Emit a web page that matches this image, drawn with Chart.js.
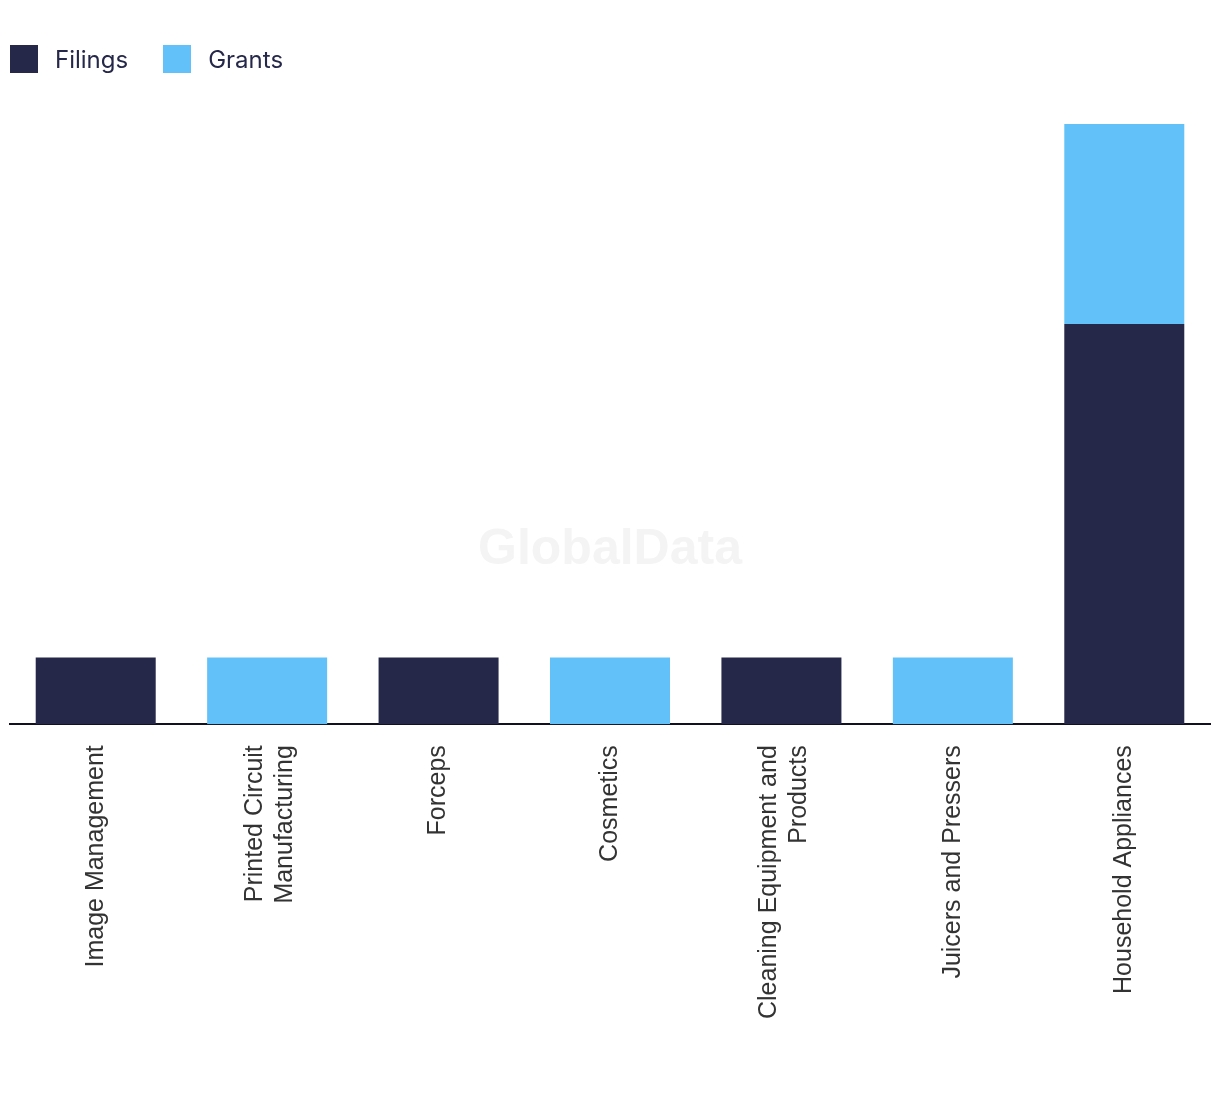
<!DOCTYPE html>
<html>
<head>
<meta charset="utf-8">
<script src="https://cdn.jsdelivr.net/npm/chart.js@4.4.1/dist/chart.umd.min.js"></script>
<style>
  body { margin: 0; background: #fff; }
  #wrap { position: relative; width: 1220px; height: 1094px; }
  #legend { position: absolute; left: 10px; top: 45px; display: flex; font-family: Inter, "Noto Sans", sans-serif; font-size: 24px; color: #262849; }
  .item { display: flex; align-items: center; margin-right: 35px; height: 28px; }
  .box { width: 28px; height: 28px; margin-right: 17px; }
  canvas { position: absolute; left: 0; top: 0; }
</style>
</head>
<body>
<div id="wrap">
  <canvas id="grafico" width="1220" height="1094"></canvas>
  <div id="legend"></div>
</div>
<script>
var categorias = [
  'Image Management',
  ['Printed Circuit', 'Manufacturing'],
  'Forceps',
  'Cosmetics',
  ['Cleaning Equipment and', 'Products'],
  'Juicers and Pressers',
  'Household Appliances'
];
var filings = [1, 0, 1, 0, 1, 0, 6];
var grants = [0, 1, 0, 1, 0, 1, 3];
var colores = ['#262849', '#62c1f9'];
var nombres = ['Filings', 'Grants'];

// leyenda
var leyenda = document.getElementById('legend');
for (var i = 0; i < nombres.length; i++) {
  var it = document.createElement('div');
  it.className = 'item';
  it.innerHTML = '<span class="box" style="background:' + colores[i] + '"></span>' + nombres[i];
  leyenda.appendChild(it);
}

var marcaAgua = {
  id: 'marcaAgua',
  beforeDatasetsDraw: function (chart) {
    var c = chart.ctx;
    c.save();
    c.font = 'bold 50px "Liberation Sans", Arial, sans-serif';
    c.fillStyle = '#f4f4f4';
    c.textAlign = 'center';
    c.textBaseline = 'middle';
    c.fillText('GlobalData', chart.width / 2, 550);
    c.restore();
  }
};

// centrar las etiquetas de dos lineas sobre la barra
var centrarEtiquetas = {
  id: 'centrarEtiquetas',
  beforeDraw: function (chart) {
    var escala = chart.scales.x;
    var items = escala.getLabelItems(chart.chartArea);
    items.forEach(function (item) {
      if (Array.isArray(item.label) && !item._movido && item.font) {
        var alto = item.font.lineHeight || 30;
        item.options.translation[0] -= (item.label.length - 1) * alto / 2 - 3;
        item._movido = true;
      }
    });
  }
};

var ctx = document.getElementById('grafico').getContext('2d');
var grafico = new Chart(ctx, {
  type: 'bar',
  data: {
    labels: categorias,
    datasets: [{
      label: nombres[0],
      data: filings,
      backgroundColor: colores[0]
    }, {
      label: nombres[1],
      data: grants,
      backgroundColor: colores[1]
    }]
  },
  options: {
    responsive: false,
    animation: false,
    layout: { padding: { left: 10, right: 10, top: 124, bottom: 62 } },
    datasets: { bar: { barPercentage: 0.7, categoryPercentage: 1, borderWidth: 0 } },
    plugins: {
      legend: { display: false },
      tooltip: { enabled: false }
    },
    scales: {
      x: {
        stacked: true,
        grid: { display: false },
        border: { display: true, color: '#111122', width: 2 },
        ticks: {
          minRotation: 90,
          maxRotation: 90,
          padding: 13,
          color: '#333333',
          font: { family: '"Liberation Sans", Arial, sans-serif', size: 25 }
        }
      },
      y: {
        stacked: true,
        display: false,
        min: 0,
        max: 9
      }
    }
  },
  plugins: [marcaAgua, centrarEtiquetas]
});
</script>
</body>
</html>
